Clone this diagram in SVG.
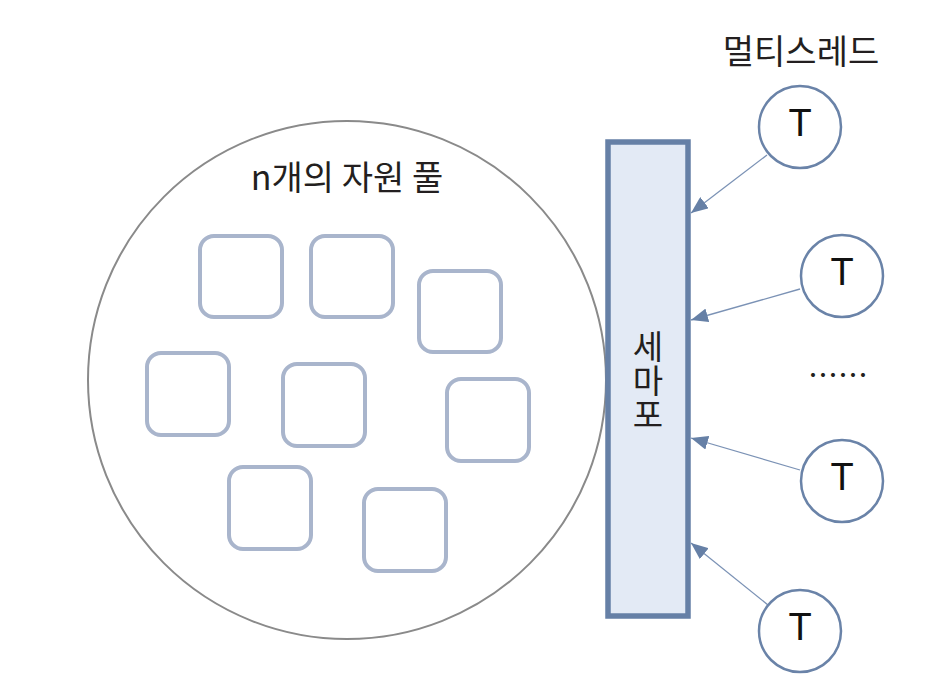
<svg xmlns="http://www.w3.org/2000/svg" width="942" height="700" viewBox="0 0 942 700">
<defs>
<style>
.txt{font-family:"Noto Sans CJK KR","Liberation Sans",sans-serif;fill:#231f20}
.t{font-family:"Liberation Sans",Arial,sans-serif;font-size:38px;fill:#111;text-anchor:middle}
.res{fill:none;stroke:#a9b5cc;stroke-width:4}
.thread{fill:#fff;stroke:#6a83a8;stroke-width:2.5}
.conn{stroke:#7b92b5;stroke-width:1.3;fill:none;marker-end:url(#ah)}
</style>
<marker id="ah" markerUnits="userSpaceOnUse" markerWidth="18" markerHeight="14" refX="17" refY="7" orient="auto">
<path d="M0,0 L17,7 L0,14 Z" fill="#6680a6"/>
</marker>
</defs>
<rect width="942" height="700" fill="#fff"/>
<g id="pool">
<circle cx="347" cy="380" r="259" fill="#fff" stroke="#8a8a8a" stroke-width="2"/>
<text class="txt" x="347" y="190" font-size="34" text-anchor="middle">n개의 자원 풀</text>
</g>
<g id="resources">
<rect id="r1" class="res" x="200" y="236" width="82" height="81" rx="14"/>
<rect id="r2" class="res" x="311" y="236" width="82" height="81" rx="14"/>
<rect id="r3" class="res" x="419" y="271" width="82" height="81" rx="14"/>
<rect id="r4" class="res" x="147" y="353" width="82" height="82" rx="14"/>
<rect id="r5" class="res" x="283" y="364" width="82" height="82" rx="14"/>
<rect id="r6" class="res" x="447" y="379" width="82" height="82" rx="14"/>
<rect id="r7" class="res" x="229" y="467" width="82" height="82" rx="14"/>
<rect id="r8" class="res" x="364" y="489" width="82" height="82" rx="14"/>
</g>
<g id="semaphore">
<rect x="608" y="142" width="80" height="474" fill="#e3eaf5" stroke="#6680a6" stroke-width="5.5"/>
<text class="txt" x="648" y="330" font-size="33" letter-spacing="1" writing-mode="vertical-rl" glyph-orientation-vertical="0">세마포</text>
</g>
<g id="label-multithread">
<text class="txt" x="801" y="64" font-size="34" text-anchor="middle">멀티스레드</text>
</g>
<g id="connectors">
<line class="conn" x1="767" y1="155" x2="691" y2="213"/>
<line class="conn" x1="800" y1="289" x2="691" y2="320"/>
<line class="conn" x1="800" y1="470" x2="691" y2="438"/>
<line class="conn" x1="768" y1="605" x2="691" y2="543"/>
</g>
<g id="t1"><circle class="thread" cx="800" cy="127" r="41"/><text class="t" x="800" y="136">T</text></g>
<g id="t2"><circle class="thread" cx="842" cy="276" r="41"/><text class="t" x="842" y="285">T</text></g>
<g id="dots"><text class="txt" x="838" y="386" font-size="30" text-anchor="middle">……</text></g>
<g id="t3"><circle class="thread" cx="842" cy="481" r="41"/><text class="t" x="842" y="490">T</text></g>
<g id="t4"><circle class="thread" cx="800" cy="631" r="41"/><text class="t" x="800" y="640">T</text></g>
</svg>
